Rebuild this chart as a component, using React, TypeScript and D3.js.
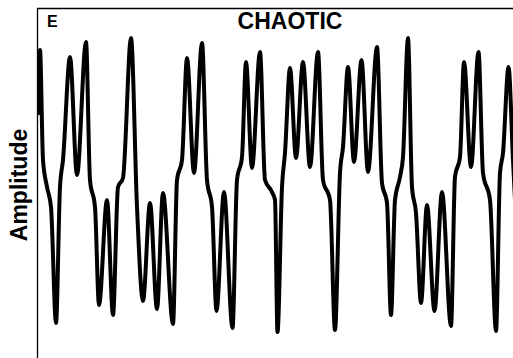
import { curveMonotoneX, line, scaleLinear } from "d3";
import React from "react";

// time (arbitrary units) and amplitude
const timePts = [
    1, 3, 6, 10, 14, 19, 23, 26, 33, 40,
    49, 53, 58, 62, 70, 76, 81, 86, 94, 100,
    106, 113, 120, 126, 136, 140, 145, 150, 157, 165,
    170, 175, 179.5, 187, 195.5, 200, 205, 209, 215, 223,
    228, 235, 238, 240.5, 245, 248, 253, 259, 266, 273,
    281, 286, 293, 298, 303, 306, 311, 317, 324.5, 331,
    340, 345, 350, 354, 358, 363, 366, 371, 375, 379,
    384, 390, 397.5, 405, 414, 418, 423, 427, 434, 441.5,
    446, 453, 459, 463, 466, 471.5, 476, 479,
];
const amplitude = [
    243, 308, 198, 171, 151, 35, 171, 198, 301, 183,
    316, 178, 151, 53, 158, 43, 171, 180, 320, 151,
    57, 155, 49, 165, 34, 178, 198, 300, 185, 315,
    178, 151, 47, 166, 30, 178, 201, 296, 190, 306,
    178, 166, 158, 26, 171, 205, 290, 200, 296, 191,
    306, 178, 158, 28, 185, 211, 291, 196, 298, 186,
    311, 175, 155, 43, 158, 181, 201, 320, 171, 145,
    55, 153, 47, 166, 32, 181, 201, 296, 191, 306,
    185, 158, 27, 185, 205, 291, 198, 138,
];

const title = "CHAOTIC";
const panel = "E";
const yLabel = "Amplitude";

const W = 513,
    H = 358;
const margin = { top: 8, right: 0, bottom: 0, left: 37 };

const App: React.FC = () => {
    const x = scaleLinear()
        .domain([0, 476])
        .range([margin.left, W - margin.right]);
    const y = scaleLinear()
        .domain([0, 350])
        .range([H - margin.bottom, margin.top]);

    const pts: [number, number][] = timePts.map((t, i) => [t, amplitude[i]]);
    const trace = line<[number, number]>()
        .x(d => x(d[0]))
        .y(d => y(d[1]))
        .curve(curveMonotoneX);

    const font = "'Liberation Sans', Arial, sans-serif";

    return (
        <>
            <style>{`body{margin:0}`}</style>
            <svg width={W} height={H} style={{ display: "block" }}>
                <rect width={W} height={H} fill="#fff" />
                <defs>
                    <clipPath id="plot">
                        <rect x={margin.left} y={margin.top} width={W - margin.left} height={H - margin.top} />
                    </clipPath>
                </defs>
                <path
                    d={trace(pts) || ""}
                    fill="none"
                    stroke="#000"
                    strokeWidth={4}
                    strokeLinejoin="round"
                    clipPath="url(#plot)"
                />
                {/* frame: top and left only */}
                <line x1={margin.left} x2={W} y1={margin.top + 0.5} y2={margin.top + 0.5} stroke="#000" strokeWidth={1.3} />
                <line x1={margin.left + 0.5} x2={margin.left + 0.5} y1={margin.top} y2={H} stroke="#000" strokeWidth={1.3} />
                <text x={290} y={29} textAnchor="middle" fontFamily={font} fontWeight="bold" fontSize={23}>
                    {title}
                </text>
                <text x={47} y={27} fontFamily={font} fontWeight="bold" fontSize={16}>
                    {panel}
                </text>
                <text
                    transform="translate(27,185) rotate(-90)"
                    textAnchor="middle"
                    fontFamily={font}
                    fontWeight="bold"
                    fontSize={23}
                >
                    {yLabel}
                </text>
            </svg>
        </>
    );
};

export default App;
